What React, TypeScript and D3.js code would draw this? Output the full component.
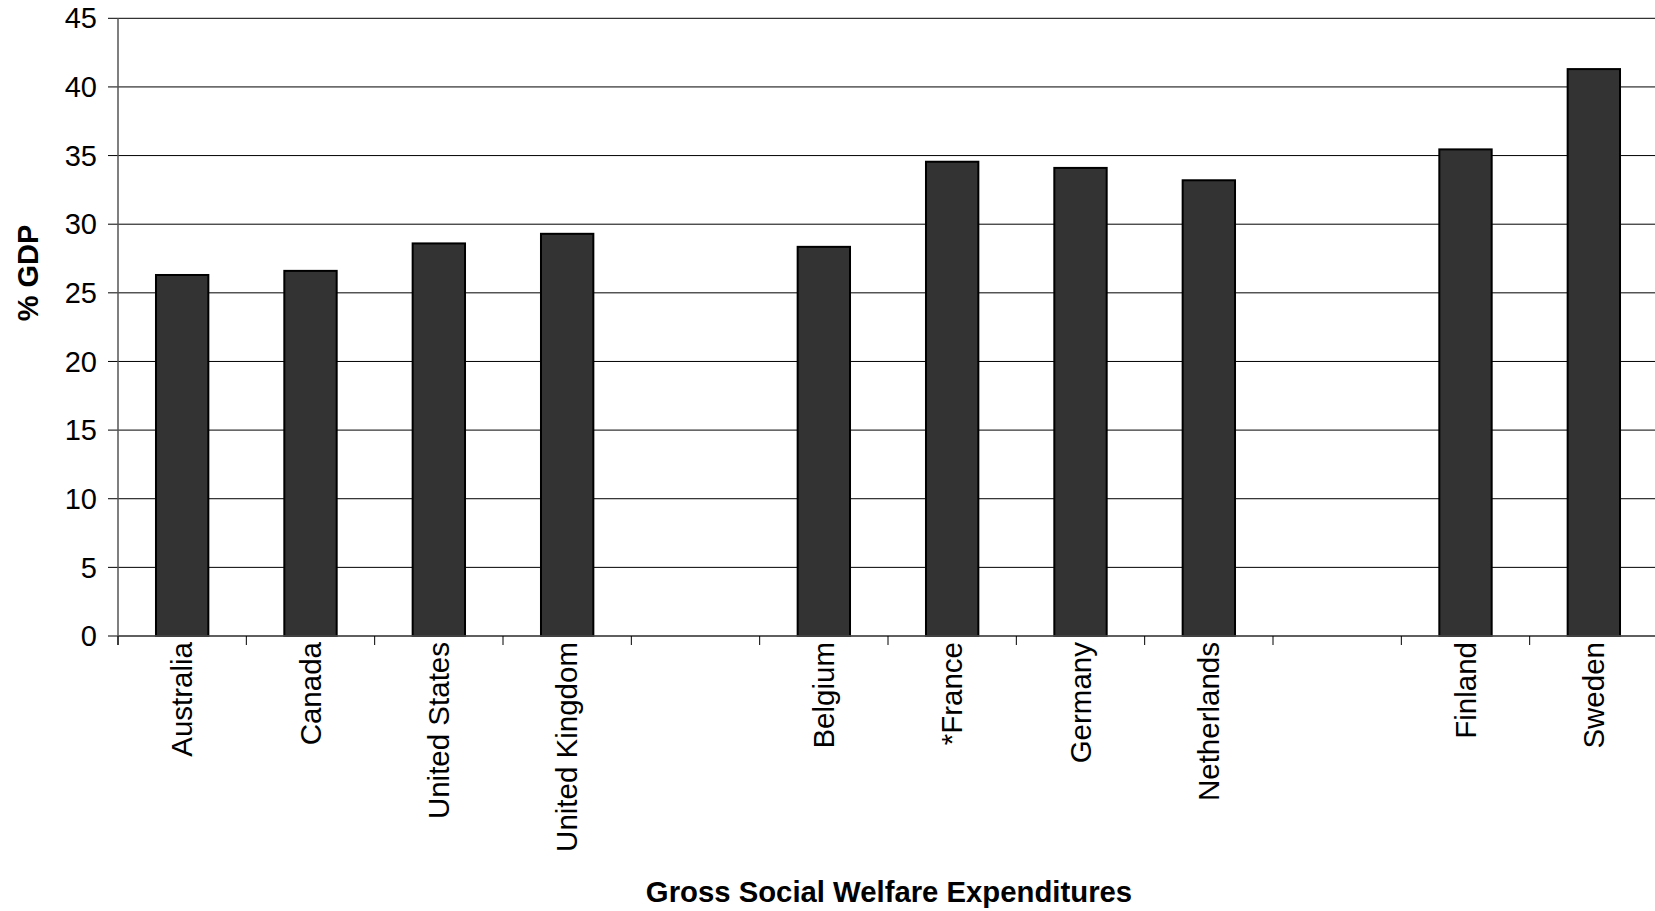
import React from "react";
import * as d3 from "d3";

const categories = [
  "Australia",
  "Canada",
  "United States",
  "United Kingdom",
  "",
  "Belgium",
  "*France",
  "Germany",
  "Netherlands",
  "",
  "Finland",
  "Sweden",
];
const values: (number | null)[] = [26.3, 26.6, 28.6, 29.3, null, 28.35, 34.55, 34.1, 33.2, null, 35.45, 41.3];
const yTicks = [0, 5, 10, 15, 20, 25, 30, 35, 40, 45];
const yTitle = "% GDP";
const xTitle = "Gross Social Welfare Expenditures";

const W = 1655;
const H = 911;
const FONT = "'Liberation Sans', Arial, Helvetica, sans-serif";

export default function App() {
  const left = 118;
  const right = 1658;
  const top = 18.3;
  const bottom = 636;
  const x = d3.scaleBand<number>().domain(d3.range(categories.length)).range([left, right]).padding(0);
  const y = d3.scaleLinear().domain([0, 45]).range([bottom, top]);
  const bw = x.bandwidth();
  const barW = bw * 0.408;

  return (
    <svg
      width={W}
      height={H}
      style={{ position: "absolute", left: 0, top: 0, background: "#fff" }}
      fontFamily={FONT}
    >
      {/* gridlines */}
      {yTicks.map((t) => (
        <line key={"g" + t} x1={left} x2={right} y1={y(t)} y2={y(t)} stroke="#000" strokeWidth={1} />
      ))}
      {/* y tick marks and labels */}
      {yTicks.map((t) => (
        <g key={"yt" + t}>
          <line x1={left - 10} x2={left} y1={y(t)} y2={y(t)} stroke="#000" strokeWidth={1} />
          <text x={97} y={y(t)} dy="0.35em" textAnchor="end" fontSize={29} fill="#000">
            {t}
          </text>
        </g>
      ))}
      {/* bars */}
      {values.map((v, i) =>
        v == null ? null : (
          <rect
            key={"b" + i}
            x={(x(i) as number) + bw / 2 - barW / 2}
            y={y(v)}
            width={barW}
            height={bottom - y(v)}
            fill="#333333"
            stroke="#000"
            strokeWidth={2}
          />
        )
      )}
      {/* axes */}
      <line x1={left} x2={left} y1={top} y2={bottom + 9} stroke="#555" strokeWidth={1.5} />
      <line x1={left} x2={right} y1={bottom} y2={bottom} stroke="#555" strokeWidth={1.5} />
      {d3.range(categories.length + 1).map((i) => {
        const xx = left + i * bw;
        return <line key={"xt" + i} x1={xx} x2={xx} y1={bottom} y2={bottom + 9} stroke="#000" strokeWidth={1} />;
      })}
      {/* category labels */}
      {categories.map((c, i) =>
        c ? (
          <text
            key={"c" + i}
            transform={`translate(${(x(i) as number) + bw / 2},${bottom + 6}) rotate(-90)`}
            textAnchor="end"
            dy="0.35em"
            fontSize={29.5}
            fill="#000"
          >
            {c}
          </text>
        ) : null
      )}
      {/* titles */}
      <text
        transform={`translate(28,273) rotate(-90)`}
        textAnchor="middle"
        dy="0.35em"
        fontSize={29}
        fontWeight="bold"
        fill="#000"
      >
        {yTitle}
      </text>
      <text x={889} y={902} textAnchor="middle" fontSize={29.3} fontWeight="bold" fill="#000">
        {xTitle}
      </text>
    </svg>
  );
}
